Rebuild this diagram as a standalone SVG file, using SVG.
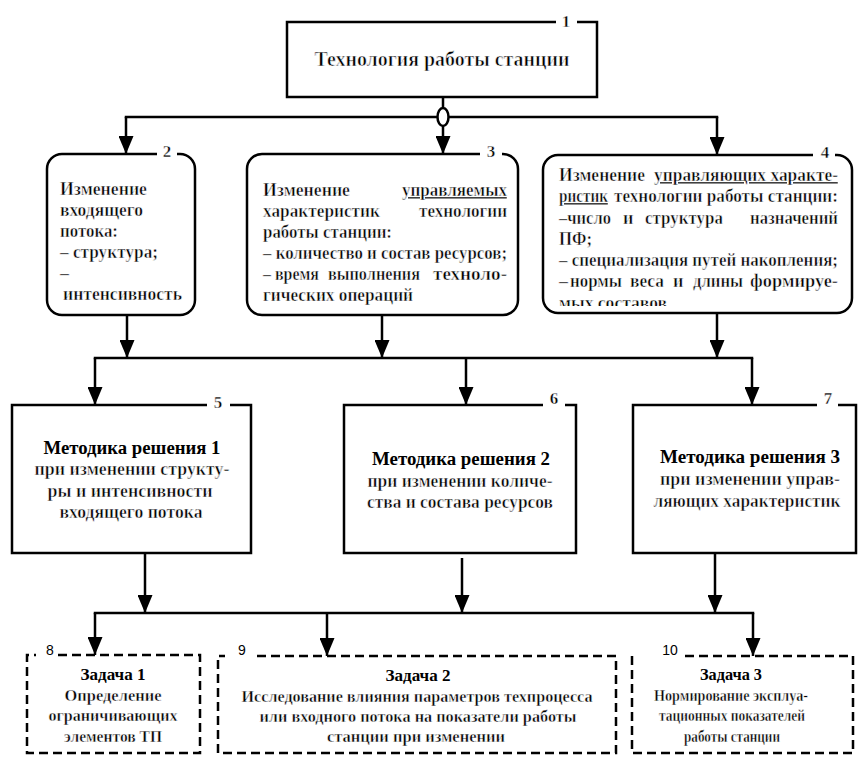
<svg xmlns="http://www.w3.org/2000/svg" width="860" height="757" viewBox="0 0 860 757">
<defs>
<marker id="arr" markerUnits="userSpaceOnUse" markerWidth="18" markerHeight="15" refX="18" refY="7.5" orient="auto"><path d="M0,0 L18,7.5 L0,15 z" fill="#000"/></marker>
<clipPath id="clip4"><rect x="545" y="157" width="305" height="149"/></clipPath>
<style>
text{font-family:'Liberation Serif','Times New Roman',serif;fill:#000}
.r{font-size:18px;font-weight:bold;stroke:#fff;stroke-width:0.5}
.rs{font-size:17px;font-weight:bold;stroke:#fff;stroke-width:0.42}
.h{font-size:18px;font-weight:bold}
.hs{font-size:17px;font-weight:bold}
.c{text-anchor:middle}
.e{text-anchor:end}
.n{font-size:17px;font-weight:bold;stroke:#fff;stroke-width:0.42;text-anchor:middle}
.ns{font-family:'Liberation Sans',Arial,sans-serif;font-size:14px;text-anchor:middle}
.u{text-decoration:underline}
.box{fill:none;stroke:#000;stroke-width:2.5}
.dash{fill:none;stroke:#000;stroke-width:2.5;stroke-dasharray:9 5}
.con{fill:none;stroke:#000;stroke-width:2.5}
</style>
</defs>
<rect width="860" height="757" fill="#fff"/>

<g id="connectors" class="con">
<path d="M124.75,117 H718.25"/>
<path d="M443,97 V154" marker-end="url(#arr)"/>
<path d="M126,117 V154" marker-end="url(#arr)"/>
<path d="M717,117 V155" marker-end="url(#arr)"/>
<ellipse cx="443" cy="117" rx="5.5" ry="9" fill="#fff"/>
<path d="M127,315 V358" marker-end="url(#arr)"/>
<path d="M382,315 V358" marker-end="url(#arr)"/>
<path d="M717,313 V358" marker-end="url(#arr)"/>
<path d="M93.75,358 H753.25"/>
<path d="M95,358 V405" marker-end="url(#arr)"/>
<path d="M466,358 V405" marker-end="url(#arr)"/>
<path d="M752,358 V405" marker-end="url(#arr)"/>
<path d="M145,553 V613" marker-end="url(#arr)"/>
<path d="M462,558 V613" marker-end="url(#arr)"/>
<path d="M715,553 V613" marker-end="url(#arr)"/>
<path d="M93.75,613 H754.25"/>
<path d="M95,613 V655" marker-end="url(#arr)"/>
<path d="M327,613 V656" marker-end="url(#arr)"/>
<path d="M753,613 V656" marker-end="url(#arr)"/>
</g>

<g id="node1">
<path class="box" d="M577,22 H597 V97 H287 V22 H556"/>
<text class="n" x="566" y="27">1</text>
<text class="c" x="442" y="66" style="font-size:20px;font-weight:bold;stroke:#fff;stroke-width:0.58" textLength="255" lengthAdjust="spacingAndGlyphs">Технология работы станции</text>
</g>

<g id="node2">
<path class="box" d="M177,154 H180 A15,15 0 0 1 195,169 V300 A15,15 0 0 1 180,315 H62 A15,15 0 0 1 47,300 V169 A15,15 0 0 1 62,154 H157"/>
<text class="n" x="167" y="157">2</text>
<text class="r" x="60" y="195" textLength="87" lengthAdjust="spacingAndGlyphs">Изменение</text>
<text class="r" x="60" y="216" textLength="83" lengthAdjust="spacingAndGlyphs">входящего</text>
<text class="r" x="60" y="237" textLength="58" lengthAdjust="spacingAndGlyphs">потока:</text>
<text class="r" x="60" y="258" textLength="98" lengthAdjust="spacingAndGlyphs">– структура;</text>
<text class="r" x="60" y="279">–</text>
<text class="r" x="63" y="300" textLength="119" lengthAdjust="spacingAndGlyphs">интенсивность</text>
</g>

<g id="node3">
<path class="box" d="M502,154 H503 A15,15 0 0 1 518,169 V300 A15,15 0 0 1 503,315 H262 A15,15 0 0 1 247,300 V169 A15,15 0 0 1 262,154 H480"/>
<text class="n" x="491" y="157">3</text>
<text class="r" x="263" y="196" textLength="87" lengthAdjust="spacingAndGlyphs">Изменение</text>
<text class="r e u" x="507" y="196" textLength="105" lengthAdjust="spacingAndGlyphs">управляемых</text>
<text class="r" x="263" y="217" textLength="117" lengthAdjust="spacingAndGlyphs">характеристик</text>
<text class="r e" x="507" y="217" textLength="88" lengthAdjust="spacingAndGlyphs">технологии</text>
<text class="r" x="263" y="238" textLength="129" lengthAdjust="spacingAndGlyphs">работы станции:</text>
<text class="r" x="263" y="259" textLength="244" lengthAdjust="spacingAndGlyphs">– количество и состав ресурсов;</text>
<text class="r" x="263" y="280" textLength="56" lengthAdjust="spacingAndGlyphs">– время</text>
<text class="r" x="328" y="280" textLength="92" lengthAdjust="spacingAndGlyphs">выполнения</text>
<text class="r e" x="507" y="280" textLength="74" lengthAdjust="spacingAndGlyphs">техноло-</text>
<text class="r" x="263" y="301" textLength="150" lengthAdjust="spacingAndGlyphs">гических операций</text>
</g>

<g id="node4">
<path class="box" d="M835,155 H837 A15,15 0 0 1 852,170 V298 A15,15 0 0 1 837,313 H558 A15,15 0 0 1 543,298 V170 A15,15 0 0 1 558,155 H813"/>
<text class="n" x="825" y="158">4</text>
<text class="r" x="559" y="181" textLength="86" lengthAdjust="spacingAndGlyphs">Изменение</text>
<text class="r e u" x="838" y="181" textLength="184" lengthAdjust="spacingAndGlyphs">управляющих характе-</text>
<text class="r u" x="559" y="202" textLength="49" lengthAdjust="spacingAndGlyphs">ристик</text>
<text class="r e" x="838" y="202" textLength="224" lengthAdjust="spacingAndGlyphs">технологии работы станции:</text>
<text class="r" x="559" y="223.5" textLength="52" lengthAdjust="spacingAndGlyphs">–число</text>
<text class="r" x="623" y="223.5">и</text>
<text class="r" x="645" y="223.5" textLength="78" lengthAdjust="spacingAndGlyphs">структура</text>
<text class="r e" x="838" y="223.5" textLength="88" lengthAdjust="spacingAndGlyphs">назначений</text>
<text class="r" x="559" y="245" textLength="33" lengthAdjust="spacingAndGlyphs">ПФ;</text>
<text class="r" x="559" y="266" textLength="279" lengthAdjust="spacingAndGlyphs">– специализация путей накопления;</text>
<text class="r" x="559" y="287">–</text>
<text class="r" x="570" y="287" textLength="52" lengthAdjust="spacingAndGlyphs">нормы</text>
<text class="r" x="630" y="287" textLength="34" lengthAdjust="spacingAndGlyphs">веса</text>
<text class="r" x="673" y="287">и</text>
<text class="r" x="693" y="287" textLength="50" lengthAdjust="spacingAndGlyphs">длины</text>
<text class="r e" x="838" y="287" textLength="88" lengthAdjust="spacingAndGlyphs">формируе-</text>
<text class="r" x="559" y="308.5" textLength="108" lengthAdjust="spacingAndGlyphs" clip-path="url(#clip4)">мых составов</text>
</g>

<g id="node5">
<path class="box" d="M230,405 H251 V553 H12 V405 H207"/>
<text class="n" x="218" y="408">5</text>
<text class="h c" x="132" y="454" textLength="177" lengthAdjust="spacingAndGlyphs">Методика решения 1</text>
<text class="r c" x="132" y="475" textLength="195" lengthAdjust="spacingAndGlyphs">при изменении структу-</text>
<text class="r c" x="130" y="497" textLength="165" lengthAdjust="spacingAndGlyphs">ры и интенсивности</text>
<text class="r c" x="131" y="518" textLength="143" lengthAdjust="spacingAndGlyphs">входящего потока</text>
</g>

<g id="node6">
<path class="box" d="M565,405 H576 V553 H344 V405 H543"/>
<text class="n" x="554" y="404">6</text>
<text class="h c" x="461" y="465" textLength="178" lengthAdjust="spacingAndGlyphs">Методика решения 2</text>
<text class="r c" x="460" y="487" textLength="185" lengthAdjust="spacingAndGlyphs">при изменении количе-</text>
<text class="r c" x="460" y="508" textLength="186" lengthAdjust="spacingAndGlyphs">ства и состава ресурсов</text>
</g>

<g id="node7">
<path class="box" d="M838,405 H856 V553 H633 V405 H817"/>
<text class="n" x="828" y="404">7</text>
<text class="h c" x="750" y="463" textLength="180" lengthAdjust="spacingAndGlyphs">Методика решения 3</text>
<text class="r c" x="750" y="485" textLength="180" lengthAdjust="spacingAndGlyphs">при изменении управ-</text>
<text class="r c" x="747" y="507" textLength="187" lengthAdjust="spacingAndGlyphs">ляющих характеристик</text>
</g>

<g id="node8">
<path class="dash" d="M58,655 H200 V753 H27 V655 H36"/>
<text class="ns" x="50" y="655">8</text>
<text class="hs c" x="113" y="680" textLength="65" lengthAdjust="spacingAndGlyphs">Задача 1</text>
<text class="rs c" x="113" y="701" textLength="97" lengthAdjust="spacingAndGlyphs">Определение</text>
<text class="rs c" x="113" y="721" textLength="129" lengthAdjust="spacingAndGlyphs">ограничивающих</text>
<text class="rs c" x="113" y="742" textLength="98" lengthAdjust="spacingAndGlyphs">элементов ТП</text>
</g>

<g id="node9">
<path class="dash" d="M257,656 H616 V753 H218 V656 H225"/>
<text class="ns" x="242" y="655">9</text>
<text class="hs c" x="418" y="681" textLength="65" lengthAdjust="spacingAndGlyphs">Задача 2</text>
<text class="rs c" x="417" y="702" textLength="351" lengthAdjust="spacingAndGlyphs">Исследование влияния параметров техпроцесса</text>
<text class="rs c" x="418" y="722" textLength="317" lengthAdjust="spacingAndGlyphs">или входного потока на показатели работы</text>
<text class="rs c" x="416" y="742" textLength="178" lengthAdjust="spacingAndGlyphs">станции при изменении</text>
</g>

<g id="node10">
<path class="dash" d="M685,656 H853 V753 H632 V656 H637"/>
<text class="ns" x="670" y="655">10</text>
<text class="hs c" x="731" y="680" textLength="62" lengthAdjust="spacingAndGlyphs">Задача 3</text>
<text class="rs c" x="731" y="701" textLength="154" lengthAdjust="spacingAndGlyphs">Нормирование эксплуа-</text>
<text class="rs c" x="732" y="721" textLength="146" lengthAdjust="spacingAndGlyphs">тационных показателей</text>
<text class="rs c" x="732" y="742" textLength="96" lengthAdjust="spacingAndGlyphs">работы станции</text>
</g>
</svg>
